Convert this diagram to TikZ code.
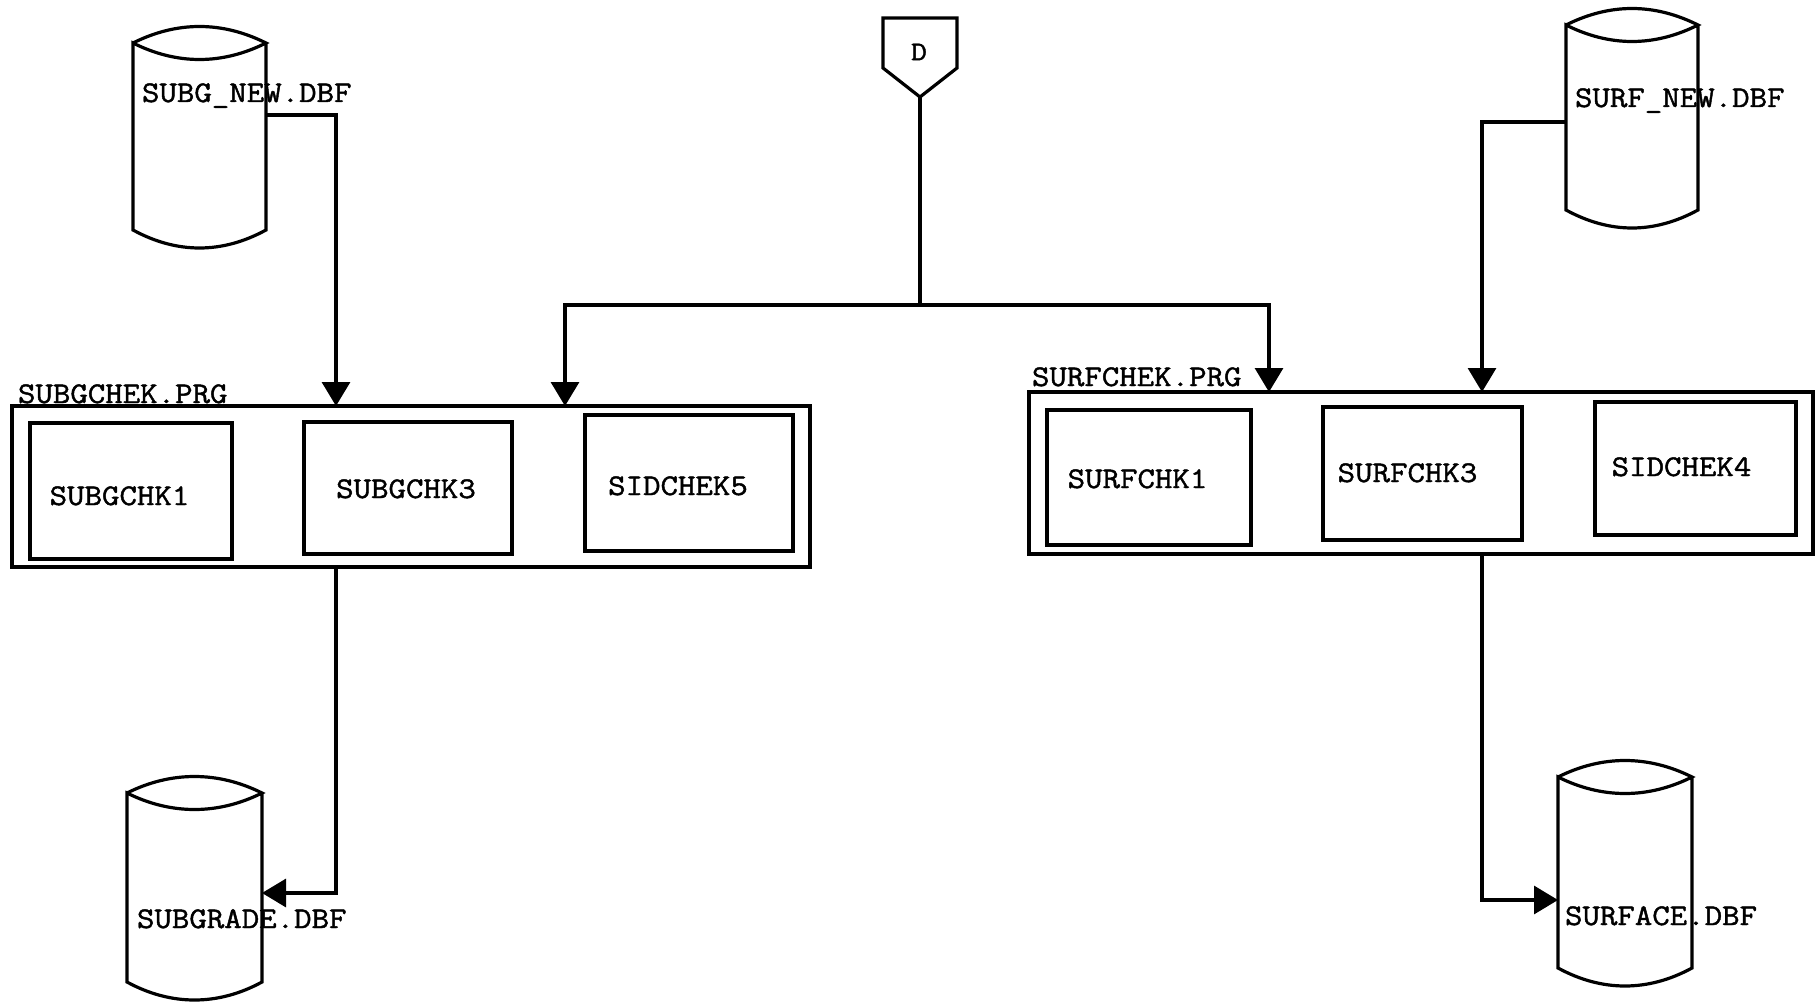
\documentclass[tikz,border=0pt]{standalone}
\usepackage{fontspec}
\setmonofont[FakeStretch=1.13,FakeBold=1.5]{Latin Modern Mono}
\usetikzlibrary{arrows.meta,calc}
\tikzset{
  ln/.style={line width=3.2pt, line join=miter},
  arr/.style={ln, -{Triangle[width=28pt,length=24pt]}},
  body/.style={draw=none, inner sep=0pt, outer sep=0pt},
  frame/.style={draw, ln, inner sep=0pt, outer sep=0pt},
  lbl/.style={inner sep=0pt, outer sep=0pt, font=\ttfamily\fontsize{30}{32}\selectfont},
  dlbl/.style={inner sep=0pt, font=\ttfamily\fontsize{27}{29}\selectfont}
}
\newcommand\drawcyl[1]{%
  \draw[ln] (#1.north west) .. controls +(44,-22) and +(-44,-22) .. (#1.north east)
    .. controls +(-44,22) and +(44,22) .. (#1.north west)
    -- (#1.south west) .. controls +(44,24) and +(-44,24) .. (#1.south east)
    -- (#1.north east);}
\begin{document}
\begin{tikzpicture}[x=1pt,y=-1pt]
\useasboundingbox (0,0) rectangle (1815,1003);
% cylinders
\node[body, minimum width=133pt, minimum height=187pt] (subgnew) at (199.5,136.5) {};
\node[body, minimum width=132pt, minimum height=185pt] (surfnew) at (1632,117.5) {};
\node[body, minimum width=135pt, minimum height=189pt] (subgrade) at (194.5,887.5) {};
\node[body, minimum width=134pt, minimum height=191pt] (surface) at (1625,872.5) {};
\drawcyl{subgnew}
\drawcyl{surfnew}
\drawcyl{subgrade}
\drawcyl{surface}
\node[lbl, anchor=base west] (tsubgnew) at (142,102) {SUBG\_NEW.DBF};
\node[lbl, anchor=base west] (tsurfnew) at (1575,107) {SURF\_NEW.DBF};
\node[lbl, anchor=base west] (tsubgrade) at (137,928) {SUBGRADE.DBF};
\node[lbl, anchor=base west] (tsurface) at (1565,925) {SURFACE.DBF};
% D connector
\node[body, minimum width=74pt, minimum height=50pt] (dnode) at (920,43) {};
\coordinate (dtip) at (920,97);
\draw[ln] (dnode.south west) -- (dnode.north west) -- (dnode.north east) -- (dnode.south east) -- (dtip) -- cycle;
\node[dlbl] (dtext) at (919,52) {D};
% program frames
\node[frame, minimum width=798pt, minimum height=161pt] (subgchek) at (411,486.5) {};
\node[frame, minimum width=784pt, minimum height=162pt] (surfchek) at (1421,473) {};
\node[lbl, anchor=base west] (tsubgchek) at (18,403) {SUBGCHEK.PRG};
\node[lbl, anchor=base west] (tsurfchek) at (1032,386) {SURFCHEK.PRG};
% inner boxes
\node[frame, minimum width=202pt, minimum height=136pt] (b1) at (131,491) {};
\node[frame, minimum width=208pt, minimum height=132pt] (b2) at (408,488) {};
\node[frame, minimum width=208pt, minimum height=136pt] (b3) at (689,483) {};
\node[frame, minimum width=204pt, minimum height=135pt] (b4) at (1149,477.5) {};
\node[frame, minimum width=199pt, minimum height=133pt] (b5) at (1422.5,473.5) {};
\node[frame, minimum width=201pt, minimum height=133pt] (b6) at (1695.5,468.5) {};
\node[lbl, anchor=base] (t1) at (119.5,505) {SUBGCHK1};
\node[lbl, anchor=base] (t2) at (406,498) {SUBGCHK3};
\node[lbl, anchor=base] (t3) at (678,495) {SIDCHEK5};
\node[lbl, anchor=base] (t4) at (1137.5,488) {SURFCHK1};
\node[lbl, anchor=base] (t5) at (1407.5,482) {SURFCHK3};
\node[lbl, anchor=base] (t6) at (1681.5,476) {SIDCHEK4};
% connectors
\coordinate (split) at (920,305);
\draw[ln] (dtip) -- (split);
\draw[arr] (split) -| (subgchek.north -| 565,0);
\draw[arr] (split) -| (surfchek.north -| 1269,0);
\draw[arr] ([yshift=21.5pt]subgnew.east) -| (subgchek.north -| 336,0);
\draw[arr] ([yshift=-4.5pt]surfnew.west) -| (surfchek.north -| 1482,0);
\draw[arr] (subgchek.south -| 336,0) |- ([yshift=-5.5pt]subgrade.east);
\draw[arr] (surfchek.south -| 1482,0) |- ([yshift=-27.5pt]surface.west);
\end{tikzpicture}
\end{document}
